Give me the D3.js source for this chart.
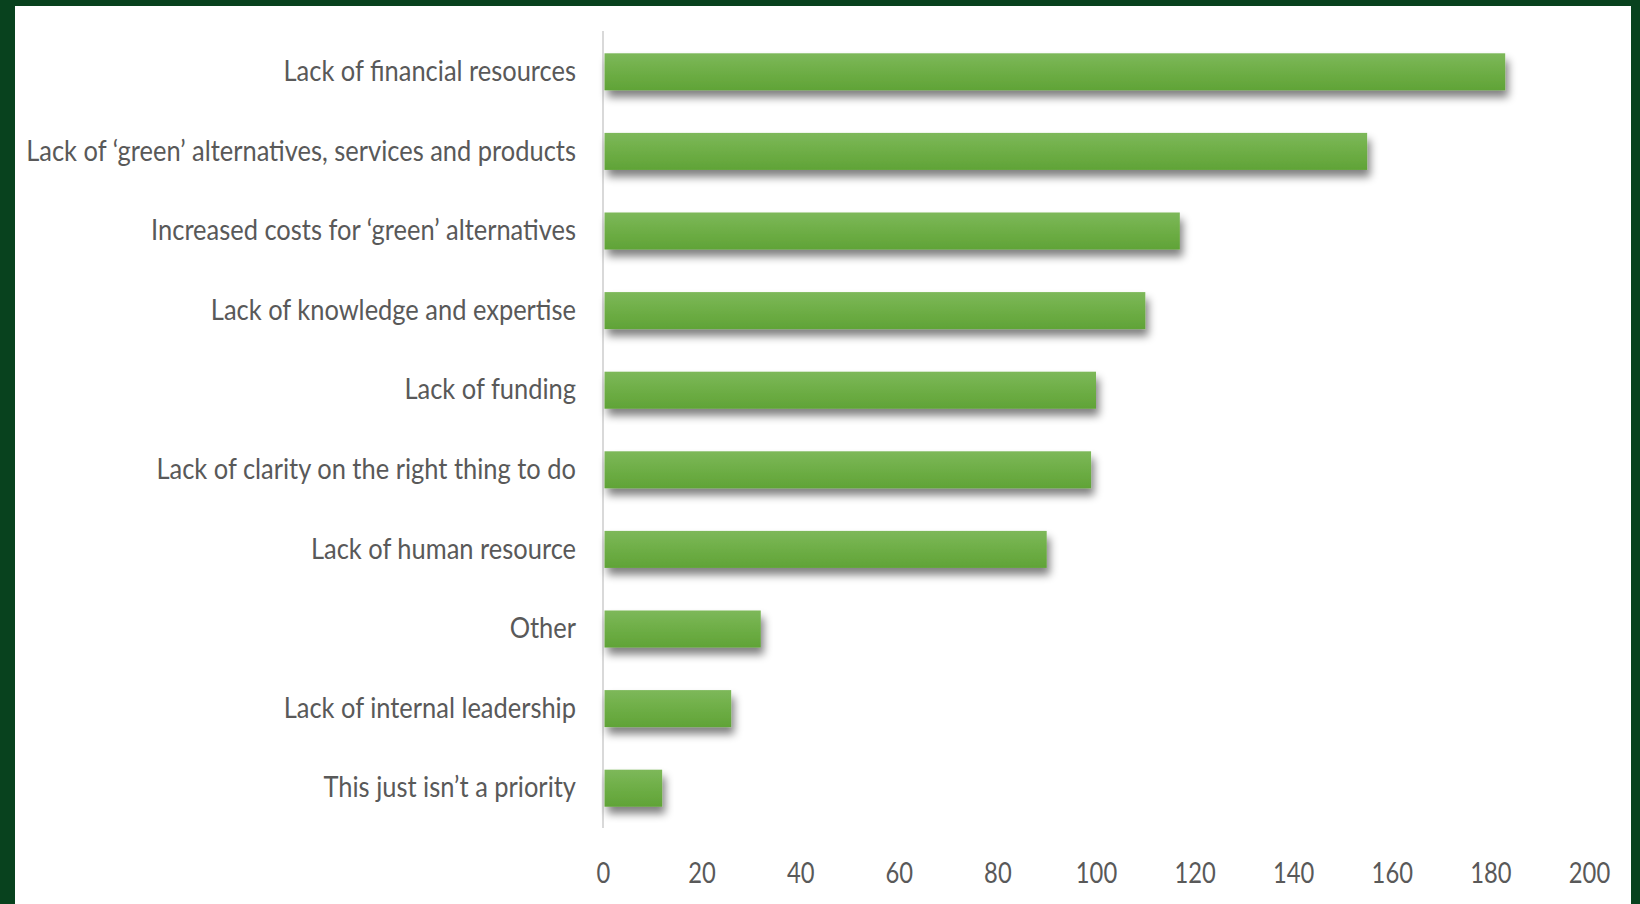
<!DOCTYPE html>
<html>
<head>
<meta charset="utf-8">
<script src="https://cdn.jsdelivr.net/npm/d3@7"></script>
<style>
  html, body { margin: 0; padding: 0; background: #08421e; }
  svg { display: block; }
</style>
</head>
<body>
<svg id="chart" width="1640" height="904"></svg>
<script>
// Barriers reported, by number of responses
const categories = [
  "Lack of financial resources",
  "Lack of \u2018green\u2019 alternatives, services and products",
  "Increased costs for \u2018green\u2019 alternatives",
  "Lack of knowledge and expertise",
  "Lack of funding",
  "Lack of clarity on the right thing to do",
  "Lack of human resource",
  "Other",
  "Lack of internal leadership",
  "This just isn\u2019t a priority"
];
const responses = [183, 155, 117, 110, 100, 99, 90, 32, 26, 12];
const tickValues = [0, 20, 40, 60, 80, 100, 120, 140, 160, 180, 200];

const W = 1640, H = 904;
const svg = d3.select("#chart");

// Framed white panel inside the dark green border
svg.append("rect").attr("x", 0).attr("y", 0).attr("width", W).attr("height", H).attr("fill", "#08421e");
svg.append("rect").attr("x", 15).attr("y", 6).attr("width", 1631 - 15).attr("height", H - 6).attr("fill", "#ffffff");

const defs = svg.append("defs");
const grad = defs.append("linearGradient").attr("id", "barFill")
  .attr("x1", 0).attr("y1", 0).attr("x2", 0).attr("y2", 1);
grad.append("stop").attr("offset", "0%").attr("stop-color", "#7db85a");
grad.append("stop").attr("offset", "50%").attr("stop-color", "#6eae46");
grad.append("stop").attr("offset", "100%").attr("stop-color", "#60a337");

const shadow = defs.append("filter").attr("id", "barShadow")
  .attr("x", "-10%").attr("y", "-30%").attr("width", "130%").attr("height", "200%");
shadow.append("feGaussianBlur").attr("in", "SourceAlpha").attr("stdDeviation", 4).attr("result", "blur");
shadow.append("feOffset").attr("in", "blur").attr("dx", 3).attr("dy", 7).attr("result", "off");
shadow.append("feComponentTransfer").attr("in", "off").attr("result", "soft")
  .append("feFuncA").attr("type", "linear").attr("slope", 0.5);
const merge = shadow.append("feMerge");
merge.append("feMergeNode").attr("in", "soft");
merge.append("feMergeNode").attr("in", "SourceGraphic");

const x = d3.scaleLinear().domain([0, 200]).range([603, 1589]);
const y = d3.scaleBand().domain(categories).range([32, 828])
  .paddingInner(0.535).paddingOuter(0.2675);

const textColor = "#595959";
const fontFamily = "Lato, 'Open Sans', sans-serif";

// Vertical category axis line
svg.append("line")
  .attr("x1", x(0)).attr("x2", x(0))
  .attr("y1", 31).attr("y2", 828)
  .attr("stroke", "#d9d9d9").attr("stroke-width", 2);

// Bars
svg.append("g").selectAll("rect")
  .data(categories)
  .join("rect")
  .attr("x", x(0) + 1.5)
  .attr("y", d => y(d))
  .attr("width", (d, i) => x(responses[i]) - x(0) - 1.5)
  .attr("height", y.bandwidth())
  .attr("fill", "url(#barFill)")
  .attr("filter", "url(#barShadow)");

// Category labels, right aligned against the axis, set in a condensed width
const labels = svg.append("g").selectAll("g")
  .data(categories)
  .join("g")
  .attr("transform", d => `translate(576,${y(d) + y.bandwidth() / 2})`);
const labelText = labels.append("text")
  .attr("text-anchor", "end")
  .attr("dy", "0.33em")
  .attr("fill", textColor)
  .attr("font-family", fontFamily)
  .attr("font-size", 28)
  .text(d => d);
let widest = 0;
labelText.each(function () { widest = Math.max(widest, this.getComputedTextLength()); });
const squeeze = Math.min(1, 550 / widest);
labelText.attr("transform", `scale(${squeeze},1)`);

// Value axis along the bottom
const xAxis = d3.axisBottom(x).tickValues(tickValues).tickSize(0).tickPadding(0).tickFormat(d3.format("d"));
const axisG = svg.append("g").attr("transform", "translate(0,873)").call(xAxis);
axisG.select(".domain").remove();
axisG.selectAll(".tick text")
  .attr("y", 0)
  .attr("dy", "0.36em")
  .attr("fill", textColor)
  .attr("font-family", fontFamily)
  .attr("font-size", 29)
  .attr("transform", "scale(0.82,1)");
</script>
</body>
</html>
